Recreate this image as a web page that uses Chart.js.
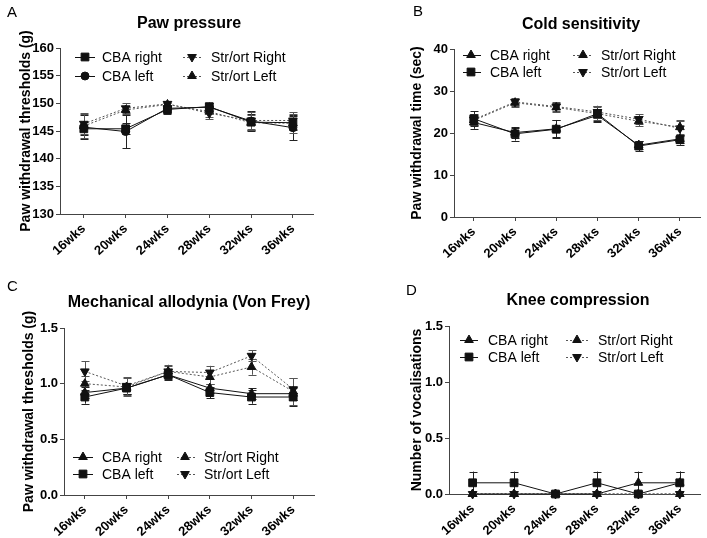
<!DOCTYPE html>
<html><head><meta charset="utf-8">
<script src="https://cdn.jsdelivr.net/npm/chart.js@4/dist/chart.umd.min.js"></script>
<style>
html,body{margin:0;padding:0;background:#fff;}
#wrap{position:relative;width:707px;height:538px;overflow:hidden;background:#fff;}
canvas{position:absolute;}
</style></head><body>
<div id="wrap">
<canvas id="cA" width="353" height="269" style="left:0px;top:0px"></canvas>
<canvas id="cB" width="354" height="269" style="left:353px;top:0px"></canvas>
<canvas id="cC" width="353" height="269" style="left:0px;top:269px"></canvas>
<canvas id="cD" width="354" height="269" style="left:353px;top:269px"></canvas>
</div>
<script>
// ---------- DATA ----------
const weeks = ['16wks','20wks','24wks','28wks','32wks','36wks'];
const seriesNames = ['CBA right','CBA left','Str/ort Right','Str/ort Left'];

// A: Paw pressure (g)
const pawCbaRight    = [145.4, 145.4, 148.9, 149.4, 146.6, 146.5];
const pawCbaRightErr = [1.2, 1.0, 0.8, 0.7, 1.5, 1.3];
const pawCbaLeft     = [145.7, 144.9, 149.1, 149.3, 146.8, 145.6];
const pawCbaLeftErr  = [2.2, 3.0, 0.9, 0.8, 1.8, 2.3];
const pawStrRight    = [146.3, 149.1, 149.9, 148.2, 146.9, 146.9];
const pawStrRightErr = [1.9, 0.9, 0.5, 1.1, 1.6, 1.5];
const pawStrLeft     = [145.9, 148.8, 149.8, 148.5, 146.5, 146.4];
const pawStrLeftErr  = [2.1, 0.8, 0.7, 1.0, 1.4, 1.7];
const pawTicks = [130, 135, 140, 145, 150, 155, 160];

// B: Cold sensitivity (sec)
const coldCbaRight    = [22.5, 20.1, 21.0, 24.2, 17.1, 18.6];
const coldCbaRightErr = [1.5, 1.2, 2.0, 1.5, 1.0, 1.0];
const coldCbaLeft     = [23.4, 19.8, 20.9, 24.6, 16.9, 18.4];
const coldCbaLeftErr  = [1.8, 1.6, 2.2, 1.8, 1.3, 1.2];
const coldStrRight    = [23.0, 27.2, 26.1, 24.6, 22.8, 21.4];
const coldStrRightErr = [1.2, 1.0, 1.0, 1.5, 1.2, 1.6];
const coldStrLeft     = [23.2, 27.4, 26.3, 25.0, 23.3, 21.1];
const coldStrLeftErr  = [1.3, 1.0, 1.0, 1.5, 1.2, 1.8];
const coldTicks = [0, 10, 20, 30, 40];

// C: Mechanical allodynia (g)
const vfCbaRight    = [0.92, 0.96, 1.08, 0.96, 0.91, 0.91];
const vfCbaRightErr = [0.05, 0.05, 0.04, 0.04, 0.05, 0.06];
const vfCbaLeft     = [0.88, 0.96, 1.08, 0.92, 0.88, 0.88];
const vfCbaLeftErr  = [0.06, 0.05, 0.05, 0.05, 0.06, 0.08];
const vfStrRight    = [1.00, 0.97, 1.11, 1.06, 1.15, 0.93];
const vfStrRightErr = [0.07, 0.08, 0.05, 0.06, 0.07, 0.12];
const vfStrLeft     = [1.11, 0.98, 1.11, 1.10, 1.25, 0.95];
const vfStrLeftErr  = [0.09, 0.08, 0.06, 0.06, 0.05, 0.10];
const vfTicks = [0, 0.5, 1.0, 1.5];

// D: Knee compression (number of vocalisations)
const kneeCbaRight    = [0, 0, 0, 0, 0.1, 0.1];
const kneeCbaRightErr = [0, 0, 0, 0, 0.1, 0.1];
const kneeCbaLeft     = [0.1, 0.1, 0, 0.1, 0, 0.1];
const kneeCbaLeftErr  = [0.1, 0.1, 0, 0.1, 0, 0.1];
const kneeStrRight    = [0, 0, 0, 0, 0, 0];
const kneeStrRightErr = [0, 0, 0, 0, 0, 0];
const kneeStrLeft     = [0, 0, 0, 0, 0, 0];
const kneeStrLeftErr  = [0, 0, 0, 0, 0, 0];
const kneeTicks = [0, 0.5, 1.0, 1.5];

// ---------- STYLE / RENDER ----------
const FAM = "'Liberation Sans', Arial, Helvetica, sans-serif";
Chart.defaults.font.family = FAM;
Chart.defaults.color = '#000';
const AXIS = '#444';
const SOLID = '#111';
const DOT = '#555';

const MARK = {
  square: {style:'rect', rot:0, r:5.5},
  circle: {style:'circle', rot:0, r:4},
  up:     {style:'triangle', rot:0, r:5},
  down:   {style:'triangle', rot:180, r:5}
};

function drawMarker(ctx, m, x, y, color) {
  ctx.save();
  ctx.fillStyle = color; ctx.strokeStyle = color; ctx.lineWidth = 1; ctx.setLineDash([]);
  ctx.beginPath();
  if (m.style === 'rect') {
    const s = Math.SQRT1_2 * m.r;
    ctx.rect(x - s, y - s, 2*s, 2*s);
  } else if (m.style === 'circle') {
    ctx.arc(x, y, m.r, 0, Math.PI*2);
  } else {
    let a = m.rot * Math.PI / 180;
    ctx.moveTo(x + Math.sin(a)*m.r, y - Math.cos(a)*m.r);
    for (let k=0;k<2;k++){ a += 2*Math.PI/3; ctx.lineTo(x + Math.sin(a)*m.r, y - Math.cos(a)*m.r); }
    ctx.closePath();
  }
  ctx.fill(); ctx.stroke();
  ctx.restore();
}

function makePanel(id, p) {
  const datasets = p.series.map((s, i) => {
    const m = MARK[s.marker];
    const col = s.dotted ? DOT : SOLID;
    return {
      label: seriesNames[i],
      data: s.values.map((v, j) => ({x: j, y: v})),
      errors: s.errors,
      marker: m,
      borderColor: col,
      backgroundColor: SOLID,
      borderWidth: 1,
      borderDash: s.dotted ? [2, 2] : [],
      pointStyle: m.style,
      pointRotation: m.rot,
      pointRadius: m.r,
      pointBackgroundColor: SOLID,
      pointBorderColor: SOLID,
      pointBorderWidth: 1,
      tension: 0,
      fill: false,
      clip: false
    };
  });

  const decor = {
    id: 'decor',
    beforeDatasetsDraw(chart) {
      const ctx = chart.ctx, ys = chart.scales.y, ca = chart.chartArea;
      ctx.save();
      ctx.beginPath();
      ctx.rect(ca.left, ca.top - 2, ca.right - ca.left, ca.bottom - ca.top + 2);
      ctx.clip();
      chart.data.datasets.forEach((ds, i) => {
        const meta = chart.getDatasetMeta(i);
        ctx.strokeStyle = ds.borderColor === DOT ? '#555' : '#222';
        ctx.lineWidth = 1;
        ctx.setLineDash([]);
        meta.data.forEach((el, j) => {
          const e = ds.errors[j];
          if (!e) return;
          const v = ds.data[j].y;
          const x = Math.round(el.x) + 0.5;
          const yt = ys.getPixelForValue(v + e), yb = ys.getPixelForValue(v - e);
          ctx.beginPath();
          ctx.moveTo(x, yt); ctx.lineTo(x, yb);
          ctx.moveTo(x - 4, Math.round(yt) + 0.5); ctx.lineTo(x + 4, Math.round(yt) + 0.5);
          ctx.moveTo(x - 4, Math.round(yb) + 0.5); ctx.lineTo(x + 4, Math.round(yb) + 0.5);
          ctx.stroke();
        });
      });
      ctx.restore();
    },
    afterDraw(chart) {
      const ctx = chart.ctx;
      ctx.save();
      ctx.fillStyle = '#000';
      ctx.textBaseline = 'middle';
      ctx.font = '15px ' + FAM;
      ctx.textAlign = 'left';
      ctx.fillText(p.letter, p.letterX, p.letterY);
      ctx.font = 'bold 16px ' + FAM;
      ctx.textAlign = 'center';
      ctx.fillText(p.title, p.titleX, p.titleY);
      ctx.font = '14px ' + FAM;
      ctx.textAlign = 'left';
      const L = p.legend;
      chart.data.datasets.forEach((ds, i) => {
        const c = L.cols[Math.floor(i / 2)];
        const y = L.rows[i % 2];
        ctx.save();
        ctx.strokeStyle = ds.borderColor;
        ctx.lineWidth = 1;
        ctx.setLineDash(ds.borderDash);
        ctx.beginPath();
        ctx.moveTo(c.x1, y + 0.5); ctx.lineTo(c.x2, y + 0.5);
        ctx.stroke();
        ctx.restore();
        drawMarker(ctx, ds.marker, c.xm, y, SOLID);
        ctx.fillStyle = '#000';
        ctx.fillText(ds.label, c.xt, y + 1);
      });
      ctx.restore();
    }
  };

  return new Chart(document.getElementById(id), {
    type: 'line',
    data: {datasets},
    options: {
      responsive: false,
      animation: false,
      devicePixelRatio: 1,
      layout: {padding: p.padding},
      plugins: {legend: {display: false}, tooltip: {enabled: false}, title: {display: false}},
      scales: {
        x: {
          type: 'linear', min: p.xMin, max: p.xMax,
          afterBuildTicks: s => { s.ticks = weeks.map((w, i) => ({value: i})); },
          afterFit: s => { s.height = p.xHeight; },
          grid: {drawOnChartArea: false, drawTicks: true, tickLength: 4, color: AXIS},
          border: {color: AXIS, width: 1},
          ticks: {autoSkip: false, minRotation: 42, maxRotation: 42, padding: 3, color: '#000',
                  font: {size: 13, weight: 'bold'}, callback: v => weeks[v] ?? ''}
        },
        y: {
          type: 'linear', min: p.yTicks[0], max: p.yTicks[p.yTicks.length - 1],
          afterBuildTicks: s => { s.ticks = p.yTicks.map(v => ({value: v})); },
          afterFit: s => { s.width = p.yWidth; },
          grid: {drawOnChartArea: false, drawTicks: true, tickLength: 4, color: AXIS},
          border: {color: AXIS, width: 1},
          ticks: {padding: 2, color: '#000', font: {size: 13, weight: 'bold'},
                  callback: v => p.yDecimals ? Number(v).toFixed(p.yDecimals) : String(v)},
          title: {display: true, text: p.yTitle, color: '#000', font: {size: 14, weight: 'bold'},
                  padding: {top: 3, bottom: 0}}
        }
      }
    },
    plugins: [decor]
  });
}

makePanel('cA', {
  letter: 'A', letterX: 7, letterY: 13,
  title: 'Paw pressure', titleX: 189, titleY: 24,
  yTitle: 'Paw withdrawal thresholds (g)', yTicks: pawTicks, yDecimals: 0,
  xMin: -0.57, xMax: 5.48,
  padding: {left: 15, right: 40, top: 48, bottom: 0}, yWidth: 45, xHeight: 55,
  legend: {rows: [57, 76], cols: [{x1: 75, x2: 95, xm: 85, xt: 102}, {x1: 183, x2: 202, xm: 192, xt: 211}]},
  series: [
    {values: pawCbaRight, errors: pawCbaRightErr, marker: 'square', dotted: false},
    {values: pawCbaLeft, errors: pawCbaLeftErr, marker: 'circle', dotted: false},
    {values: pawStrRight, errors: pawStrRightErr, marker: 'down', dotted: true},
    {values: pawStrLeft, errors: pawStrLeftErr, marker: 'up', dotted: true}
  ]
});

makePanel('cB', {
  letter: 'B', letterX: 60, letterY: 12,
  title: 'Cold sensitivity', titleX: 228, titleY: 25,
  yTitle: 'Paw withdrawal time (sec)', yTicks: coldTicks, yDecimals: 0,
  xMin: -0.48, xMax: 5.5,
  padding: {left: 53, right: 4, top: 49, bottom: 0}, yWidth: 48, xHeight: 52,
  legend: {rows: [55, 72], cols: [{x1: 110, x2: 128, xm: 118, xt: 137}, {x1: 220, x2: 240, xm: 230, xt: 248}]},
  series: [
    {values: coldCbaRight, errors: coldCbaRightErr, marker: 'up', dotted: false},
    {values: coldCbaLeft, errors: coldCbaLeftErr, marker: 'square', dotted: false},
    {values: coldStrRight, errors: coldStrRightErr, marker: 'up', dotted: true},
    {values: coldStrLeft, errors: coldStrLeftErr, marker: 'down', dotted: true}
  ]
});

makePanel('cC', {
  letter: 'C', letterX: 7, letterY: 18,
  title: 'Mechanical allodynia (Von Frey)', titleX: 189, titleY: 34,
  yTitle: 'Paw withdrawal thresholds (g)', yTicks: vfTicks, yDecimals: 1,
  xMin: -0.5, xMax: 5.5,
  padding: {left: 18, right: 39, top: 59, bottom: 0}, yWidth: 46, xHeight: 43,
  legend: {rows: [188, 205], cols: [{x1: 73, x2: 93, xm: 83, xt: 102}, {x1: 177, x2: 195, xm: 185, xt: 204}]},
  series: [
    {values: vfCbaRight, errors: vfCbaRightErr, marker: 'up', dotted: false},
    {values: vfCbaLeft, errors: vfCbaLeftErr, marker: 'square', dotted: false},
    {values: vfStrRight, errors: vfStrRightErr, marker: 'up', dotted: true},
    {values: vfStrLeft, errors: vfStrLeftErr, marker: 'down', dotted: true}
  ]
});

makePanel('cD', {
  letter: 'D', letterX: 53, letterY: 22,
  title: 'Knee compression', titleX: 225, titleY: 32,
  yTitle: 'Number of vocalisations', yTicks: kneeTicks, yDecimals: 1,
  xMin: -0.57, xMax: 5.5,
  padding: {left: 53, right: 4, top: 57, bottom: 0}, yWidth: 43, xHeight: 44,
  legend: {rows: [71, 88], cols: [{x1: 107, x2: 125, xm: 116, xt: 135}, {x1: 213, x2: 235, xm: 224, xt: 245}]},
  series: [
    {values: kneeCbaRight, errors: kneeCbaRightErr, marker: 'up', dotted: false},
    {values: kneeCbaLeft, errors: kneeCbaLeftErr, marker: 'square', dotted: false},
    {values: kneeStrRight, errors: kneeStrRightErr, marker: 'up', dotted: true},
    {values: kneeStrLeft, errors: kneeStrLeftErr, marker: 'down', dotted: true}
  ]
});
</script>
</body></html>
